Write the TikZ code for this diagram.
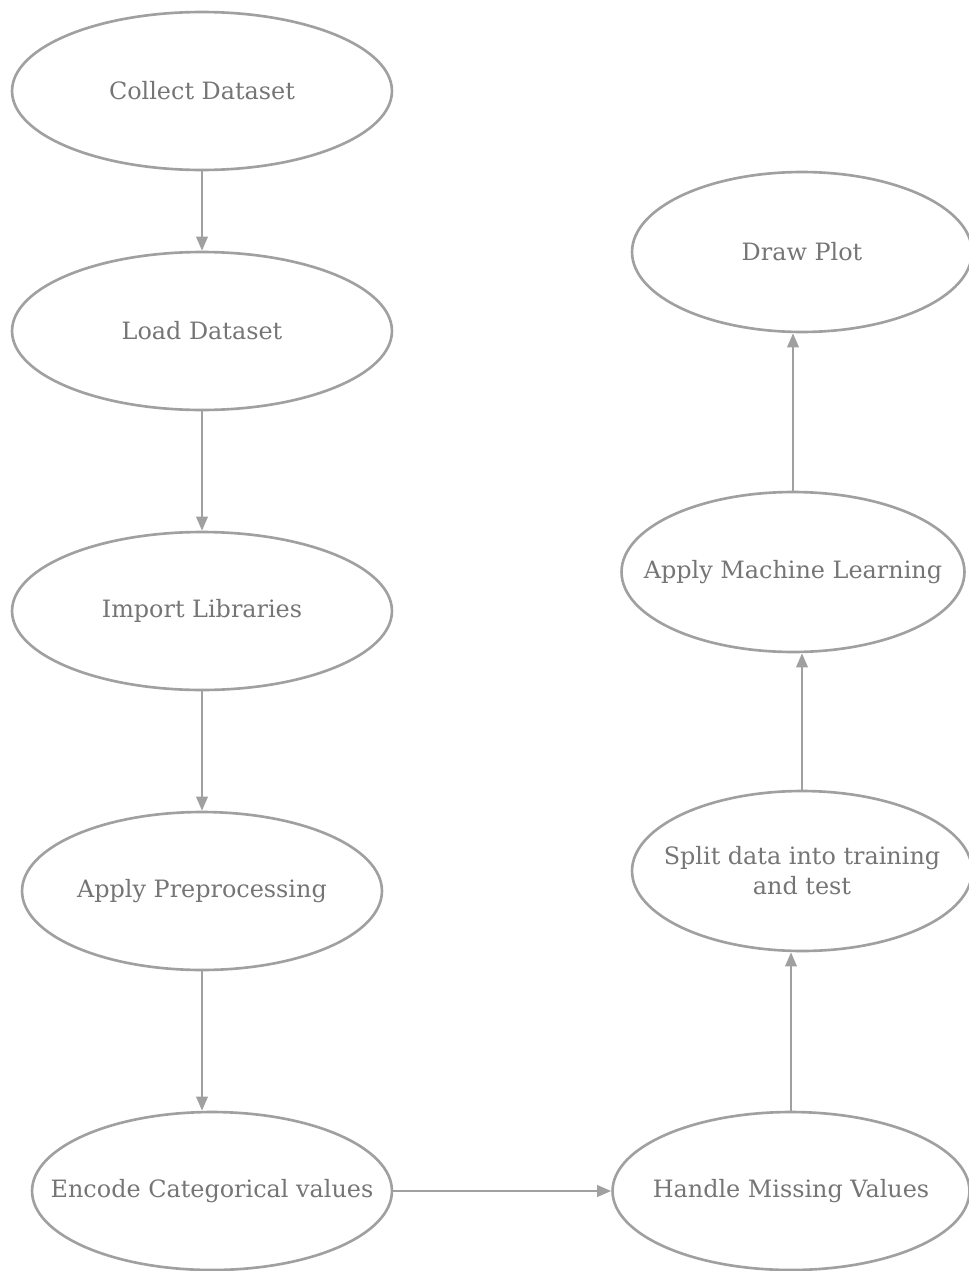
\documentclass[tikz,border=0pt]{standalone}
\usepackage{fontspec}
\setmainfont{DejaVu Serif}
\usetikzlibrary{shapes.geometric,arrows.meta}
\definecolor{edgegray}{HTML}{A0A0A0}
\definecolor{textgray}{HTML}{757575}
\tikzset{
  stage/.style={ellipse, draw=edgegray, line width=1.5pt, inner sep=0pt},
  wide/.style={stage, minimum width=7.6cm, minimum height=3.16cm},
  mid/.style={stage, minimum width=7.2cm, minimum height=3.16cm},
  narrow/.style={stage, minimum width=6.8cm, minimum height=3.2cm},
  stagetext/.style={text=textgray, font=\fontsize{13.6}{17}\selectfont, align=center},
  flow/.style={draw=edgegray, line width=1.4pt, -{Triangle[length=8pt,width=6.5pt]}}
}
\begin{document}
\begin{tikzpicture}[x=0.02cm, y=-0.02cm, line join=round]
  \useasboundingbox (0,0) rectangle (969,1271);

  % left column
  \node[wide, label={[stagetext]center:Collect Dataset}] (collect) at (202,91) {};
  \node[wide, label={[stagetext]center:Load Dataset}] (load) at (202,331) {};
  \node[wide, label={[stagetext]center:Import Libraries}] (import) at (202,611) {};
  \node[mid, label={[stagetext]center:Apply Preprocessing}] (prep) at (202,891) {};
  \node[mid, label={[stagetext]center:Encode Categorical values}] (encode) at (212,1191) {};

  % right column
  \node[stage, minimum width=7.14cm, minimum height=3.16cm, label={[stagetext]center:Handle Missing Values}] (missing) at (791,1191) {};
  \node[narrow, label={[stagetext]center:Split data into training\\and test}] (split) at (802,871) {};
  \node[stage, minimum width=6.86cm, minimum height=3.2cm, label={[stagetext]center:Apply Machine Learning}] (ml) at (793,572) {};
  \node[narrow, label={[stagetext]center:Draw Plot}] (plot) at (802,252) {};

  % connectors
  \draw[flow] (collect) -- (load);
  \draw[flow] (load) -- (import);
  \draw[flow] (import) -- (prep);
  \draw[flow] (prep.south) -- (prep.south |- encode.north);
  \draw[flow] (encode) -- (missing);
  \draw[flow] (missing.north) -- (missing.north |- split.south);
  \draw[flow] (split.north -| ml.south) ++(9,0) coordinate (splittop) -- (splittop |- ml.south);
  \draw[flow] (ml.north) -- (ml.north |- plot.south);
\end{tikzpicture}
\end{document}
